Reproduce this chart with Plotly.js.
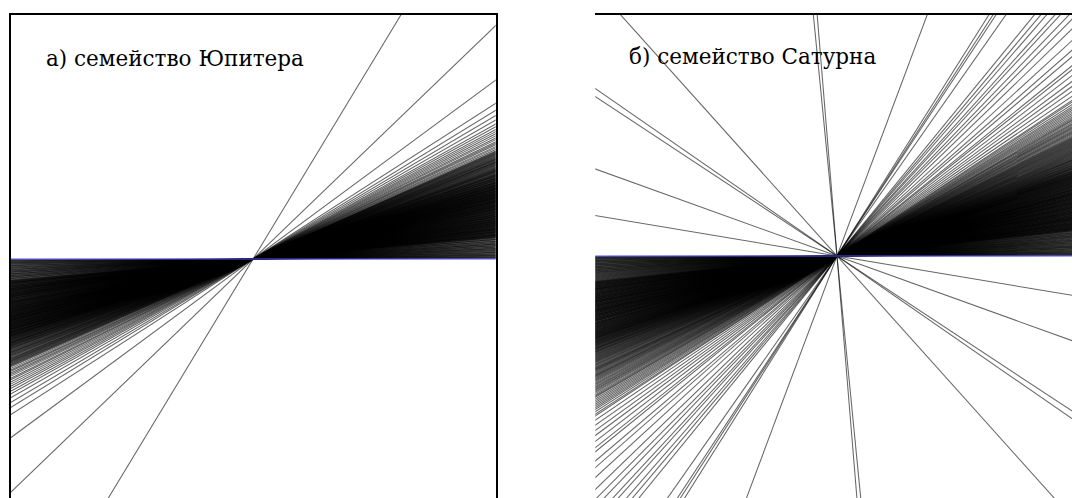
<!DOCTYPE html>
<html>
<head>
<meta charset="utf-8">
<script src="https://cdn.plot.ly/plotly-3.0.1.min.js"></script>
<style>
html,body{margin:0;padding:0;overflow:hidden;background:#fff;}
#chart{width:1100px;height:520px;}
</style>
</head>
<body>
<div id="chart"></div>
<script>
// Panel titles
const titleJupiter = "а) семейство Юпитера";
const titleSaturn = "б) семейство Сатурна";

// Line orientations (degrees from the reference horizontal), Jupiter family
const jupiterAngles = [
 0.15,0.3,0.4,0.5,0.65,0.8,0.9,1.0,1.15,1.25,1.4,1.55,1.6,1.75,1.9,2.0,2.1,2.25,2.4,2.45,
 2.6,2.75,2.85,3.0,3.1,3.2,3.35,3.5,3.55,3.7,3.85,3.95,4.1,4.2,4.3,4.45,4.6,4.65,4.8,4.95,
 5.05,5.2,5.3,5.45,5.6,5.65,5.8,5.95,6.05,6.2,6.3,6.4,6.55,6.7,6.8,6.9,7.05,7.2,7.25,7.4,
 7.55,7.65,7.8,7.9,8.0,8.15,8.3,8.4,8.5,8.65,8.8,8.9,9.0,9.15,9.3,9.35,9.5,9.65,9.75,9.9,
 10.0,10.1,10.25,10.4,10.5,10.6,10.75,10.9,11.0,11.1,11.25,11.4,11.5,11.65,11.8,11.85,12.0,
 12.15,12.25,12.4,12.55,12.6,12.75,12.9,13.0,13.15,13.3,13.4,13.5,13.65,13.8,13.95,14.05,
 14.2,14.3,14.45,14.6,14.7,14.85,15.0,15.1,15.25,15.4,15.55,15.65,15.8,15.95,16.1,16.2,
 16.35,16.5,16.65,16.8,16.9,17.05,17.2,17.35,17.5,17.6,17.8,17.95,18.1,18.3,18.45,18.6,
 18.8,18.95,19.1,19.3,19.5,19.7,19.85,20.05,20.25,
 20.5,20.75,21.0,21.2,21.45,21.7,21.9,22.2,22.4,22.65,22.9,23.2,23.45,23.7,24.0,24.3,24.6,
 24.85,25.2,25.5,25.8,26.2,26.5,26.9,27.3,27.7,28.1,28.6,29.1,29.8,30.6,31.5,32.7,36.4,
 43.9,58.8
];
// Further Jupiter-family lines inside the dense fan
const jupiterFanExtra = [
 5.12,5.38,5.52,5.73,5.88,6.12,6.35,6.48,6.62,6.85,6.97,7.12,7.33,7.47,7.72,7.85,8.08,8.22,
 8.36,8.57,8.72,8.85,9.07,9.22,9.42,9.58,9.82,9.95,10.18,10.33,10.45,10.67,10.82,10.97,11.18,
 11.33,11.45,11.57,11.72,11.93,12.08,12.2,12.33,12.48,12.68,12.82,12.97,13.08,13.22,13.37,
 13.45,13.58,13.72,13.88,14.0,14.12,14.25,14.38,14.52,14.65,14.78,14.93,15.05,15.18,15.33,
 15.48,15.6,15.73,15.88,16.03,16.15,16.27,16.42,16.58,16.72,16.85,16.97,17.12,17.27,17.42,
 17.55,17.7,17.88,18.03,18.2,18.38,18.52,18.7,18.87,19.03,19.2,19.4,19.6,19.77,19.95,20.15,
 20.35,20.62,20.88,21.1,21.33,21.58,21.8,22.05,22.3,22.52,22.78,23.05,23.32,23.58,23.85
];

// Line orientations (degrees), Saturn family
const saturnAngles = [
 0.1,0.25,0.35,0.45,0.6,0.7,0.8,0.95,1.05,1.15,1.3,1.4,1.5,1.65,1.75,1.85,2.0,2.1,2.2,2.35,
 2.45,2.55,2.7,2.8,2.9,3.05,3.15,3.25,3.4,3.5,3.6,3.75,3.85,3.95,4.1,4.2,4.3,4.45,4.55,4.65,
 4.8,4.9,5.0,5.15,5.25,5.35,5.5,5.6,5.7,5.85,5.95,6.05,6.2,6.3,6.4,6.55,6.65,6.75,6.9,7.0,
 7.1,7.25,7.35,7.45,7.6,7.7,7.8,7.95,8.05,8.15,8.3,8.4,8.5,8.65,8.75,8.85,9.0,9.1,9.2,9.35,
 9.45,9.55,9.7,9.8,9.9,10.05,10.15,10.25,10.4,10.5,10.6,10.75,10.85,10.95,11.1,11.2,11.3,
 11.45,11.55,11.65,11.8,11.9,12.0,12.15,12.25,12.35,12.5,12.6,12.7,12.85,12.95,13.05,13.2,
 13.3,13.4,13.55,13.65,13.75,13.9,14.0,14.1,14.25,14.35,14.45,14.6,14.7,14.8,14.95,15.05,
 15.15,15.3,15.4,15.55,15.65,15.8,15.9,16.05,16.15,16.3,16.45,16.55,16.7,16.85,16.95,17.1,
 17.25,17.4,17.5,17.65,17.8,17.95,18.1,18.25,18.4,18.55,18.7,18.85,19.0,19.2,19.35,19.5,
 19.7,19.85,20.05,20.25,20.4,20.6,20.8,21.0,21.2,21.45,21.65,21.85,22.1,22.3,22.55,22.8,
 23.05,23.3,23.55,23.8,24.1,24.35,24.65,24.95,25.2,25.5,25.8,26.1,26.4,26.7,27.0,27.4,27.8,
 28.2,28.6,29.0,29.4,29.9,30.3,30.6,30.9,31.2,31.5,31.8,32.1,32.4,32.8,33.2,33.5,34.2,35.0,
 35.8,36.6,37.5,38.4,39.0,40.3,41.2,42.5,44.0,45.2,46.1,47.2,47.9,49.0,49.8,50.7,55.0,56.6,
 57.1,57.8,69.5,94.7,95.6,131.9,145.3,146.6,160.2,170.5
];
// Further Saturn-family lines inside the dense fan
const saturnFanExtra = [
 6.12,6.36,6.58,6.83,7.05,7.3,7.52,7.75,7.88,8.1,8.35,8.58,8.8,8.93,9.15,9.4,9.62,9.85,
 10.1,10.32,10.55,10.68,10.9,11.15,11.38,11.6,11.72,11.95,12.2,12.42,12.65,12.78,13.0,13.25,
 13.48,13.7,13.82,14.05,14.3,14.52,14.75,14.88,15.1,15.35,15.6,15.72,15.98,16.22,16.38,16.62,
 16.78,17.02,17.18,17.33,17.58,17.72,17.88,18.02,18.18,18.33,18.48,18.63,18.78,18.93,19.1,
 19.28,19.42,19.6,19.78,19.95,20.15,20.32,20.5,20.7,20.9,21.1,21.32,21.55,21.75,21.98,22.2,
 22.42,22.68,22.92,23.18,23.42,23.68,23.95,24.22,24.5,24.8,25.08,25.35,25.65,25.95,26.25,
 26.55,26.85,27.2,27.6,28.0,28.4,28.8,29.2,29.65,30.1
];

const W = 1100, H = 520;
const R = 800;
const lineStyle = {color: 'rgba(0,0,0,0.6)', width: 1.05};
const blueStyle = {color: 'rgb(80,80,255)', width: 1};

const traces = [];
function addLines(angles, xa, ya) {
  angles.forEach(a => {
    const t = a * Math.PI / 180;
    traces.push({
      x: [-R * Math.cos(t), R * Math.cos(t)],
      y: [-R * Math.sin(t), R * Math.sin(t)],
      mode: 'lines', line: lineStyle, xaxis: xa, yaxis: ya, hoverinfo: 'skip'
    });
  });
}
function addBlue(xa, ya) {
  traces.push({x: [-R, R], y: [0, 0], mode: 'lines', line: blueStyle,
    xaxis: xa, yaxis: ya, hoverinfo: 'skip'});
}
addLines(jupiterAngles, 'x', 'y');
addLines(jupiterFanExtra, 'x', 'y');
addBlue('x', 'y');
addLines(saturnAngles, 'x2', 'y2');
addLines(saturnFanExtra, 'x2', 'y2');
addBlue('x2', 'y2');

function ax(domain, range) {
  return {domain: domain, range: range, showgrid: false, zeroline: false,
    showticklabels: false, ticks: '', showline: true, mirror: true,
    linecolor: '#000', linewidth: 2, fixedrange: true};
}

const serif = 'DejaVu Serif';
const layout = {
  width: W, height: H,
  margin: {l: 0, r: 0, t: 0, b: 0},
  paper_bgcolor: '#fff', plot_bgcolor: '#fff',
  showlegend: false,
  xaxis: ax([10.5 / W, 495.7 / W], [-242.6, 242.6]),
  yaxis: ax([1 - 503 / H, 1 - 15 / H], [-244, 244]),
  xaxis2: ax([595.3 / W, 1078.7 / W], [-241.7, 241.7]),
  yaxis2: ax([1 - 498.7 / H, 1 - 13.3 / H], [-242.7, 242.7]),
  annotations: [
    {text: titleJupiter, xref: 'paper', yref: 'paper', x: 44 / W, y: 1 - 58 / H,
     xanchor: 'left', yanchor: 'middle', showarrow: false,
     font: {family: serif, size: 21.5, color: '#000'}},
    {text: titleSaturn, xref: 'paper', yref: 'paper', x: 627 / W, y: 1 - 56 / H,
     xanchor: 'left', yanchor: 'middle', showarrow: false,
     font: {family: serif, size: 21.5, color: '#000'}}
  ]
};

Plotly.newPlot('chart', traces, layout, {staticPlot: true, displayModeBar: false});
</script>
</body>
</html>
